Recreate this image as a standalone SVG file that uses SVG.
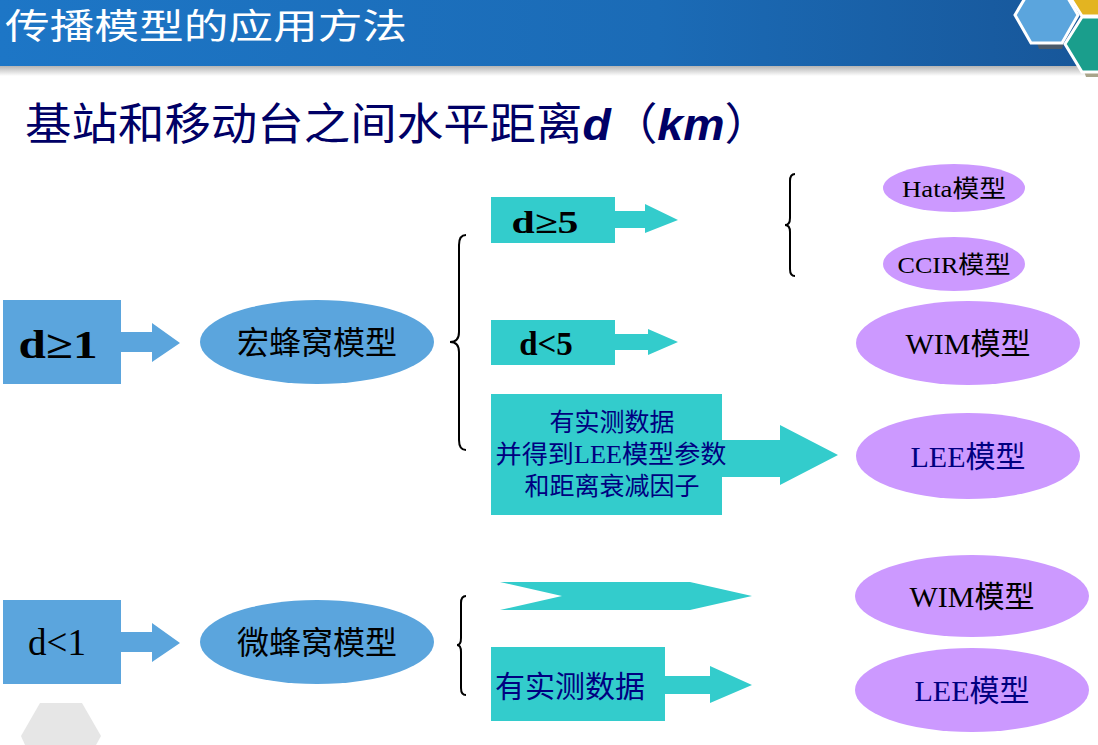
<svg xmlns="http://www.w3.org/2000/svg" width="1098" height="745" viewBox="0 0 1098 745">
<defs>
<linearGradient id="hdr" x1="0" y1="0" x2="1" y2="0">
<stop offset="0" stop-color="#1D76C6"/>
<stop offset="0.6" stop-color="#1B6BB6"/>
<stop offset="1" stop-color="#175699"/>
</linearGradient>
<linearGradient id="shd" x1="0" y1="0" x2="0" y2="1">
<stop offset="0" stop-color="#b4b4b4"/>
<stop offset="1" stop-color="#ffffff"/>
</linearGradient>
<style>
.blue{fill:#5BA5DD}
.cyan{fill:#33CCCC}
.pur{fill:#CC99FF}
.brace{fill:none;stroke:#000;stroke-width:2}
.t{font-family:"Liberation Serif","Noto Sans CJK SC",serif;fill:#000;text-anchor:middle}
.navy{fill:#000080}
</style>
</defs>
<rect width="1098" height="745" fill="#fff"/>
<g id="header">
<rect x="0" y="0" width="1098" height="66" fill="url(#hdr)"/>
<rect x="0" y="66" width="1098" height="10" fill="url(#shd)"/>
<text x="5" y="39" font-family="Noto Sans CJK SC,sans-serif" font-size="35" fill="#fff" textLength="402" lengthAdjust="spacingAndGlyphs">传播模型的应用方法</text>
<polygon points="1037,43 1064,43 1062,49 1039,49" fill="#4a5a6a"/>
<polygon points="1084,71 1098,71 1098,77 1086,77" fill="#a9a48a"/>
<polygon points="1068,-6 1104,-6 1104,16 1082,16" fill="#E3B421" stroke="#fff" stroke-width="3"/>
<polygon points="1065,44 1082,17 1110,17 1110,72 1082,72" fill="#1A9E8C" stroke="#fff" stroke-width="3"/>
<polygon points="1015,15 1031,-12 1062,-12 1078,15 1062,43 1031,43" fill="#5BA5DD" stroke="#fff" stroke-width="3"/>
<polygon points="40,703 82,703 101,736 96,745 25,745 21,736" fill="#e6e6e6"/>
</g>
<g id="subtitle">
<text x="25" y="140" font-family="Noto Sans CJK SC,sans-serif" font-size="44" fill="#000066" textLength="746" lengthAdjust="spacingAndGlyphs">基站和移动台之间水平距离<tspan font-family="Liberation Sans,sans-serif" font-weight="bold" font-style="italic">d</tspan>（<tspan font-family="Liberation Sans,sans-serif" font-weight="bold" font-style="italic">km</tspan>）</text>
</g>
<g id="connectors">
<polygon class="blue" points="121,332 152,332 152,323 180,343 152,362 152,352 121,352"/>
<polygon class="blue" points="121,632 152,632 152,623 180,643 152,662 152,652 121,652"/>
<polygon class="cyan" points="615,211 645,211 645,204 678,220 645,233 645,228 615,228"/>
<polygon class="cyan" points="615,334 648,334 648,329 678,342 648,355 648,350 615,350"/>
<polygon class="cyan" points="722,440 780,440 780,425 838,455 780,485 780,477 722,477"/>
<polygon class="cyan" points="500,582 690,582 752,596 690,610 500,610 562,596"/>
<polygon class="cyan" points="665,676 710,676 710,666 752,685 710,703 710,694 665,694"/>
<path class="brace" d="M466,235 Q459,235 459,245 L459,332 Q459,342 450,342 Q459,342 459,352 L459,440 Q459,450 466,450"/>
<path class="brace" stroke-width="1.5" d="M795,174 Q790,174 790,181 L790,218 Q790,225 785,225 Q790,225 790,232 L790,269 Q790,276 795,276"/>
<path class="brace" d="M466,596 Q461,596 461,603 L461,638 Q461,645 457,645 Q461,645 461,652 L461,688 Q461,695 466,695"/>
</g>
<g id="n-d1">
<rect class="blue" x="3" y="300" width="118" height="84"/>
<text class="t" x="58" y="358" font-size="39" font-weight="bold" textLength="79" lengthAdjust="spacingAndGlyphs">d≥1</text>
</g>
<g id="n-macro">
<ellipse class="blue" cx="317" cy="342" rx="117" ry="42"/>
<text class="t" x="317" y="354" font-size="32">宏蜂窝模型</text>
</g>
<g id="n-d5">
<rect class="cyan" x="491" y="197" width="124" height="46"/>
<text class="t" x="545" y="233" font-size="31" font-weight="bold" textLength="67" lengthAdjust="spacingAndGlyphs">d≥5</text>
</g>
<g id="n-hata">
<ellipse class="pur" cx="954" cy="188" rx="71" ry="24"/>
<text class="t" x="954" y="197" font-size="24" textLength="104" lengthAdjust="spacingAndGlyphs">Hata模型</text>
</g>
<g id="n-ccir">
<ellipse class="pur" cx="954" cy="264" rx="71" ry="27"/>
<text class="t" x="954" y="273" font-size="24" textLength="113" lengthAdjust="spacingAndGlyphs">CCIR模型</text>
</g>
<g id="n-dl5">
<rect class="cyan" x="491" y="320" width="124" height="45"/>
<text class="t" x="546" y="355" font-size="33" font-weight="bold">d&lt;5</text>
</g>
<g id="n-wim1">
<ellipse class="pur" cx="968" cy="343" rx="112" ry="42"/>
<text class="t" x="968" y="354" font-size="30">WIM模型</text>
</g>
<g id="n-leedata">
<rect class="cyan" x="491" y="394" width="231" height="121"/>
<text class="t navy" x="612" y="431" font-size="25">有实测数据</text>
<text class="t navy" x="611" y="463" font-size="25" textLength="231" lengthAdjust="spacingAndGlyphs">并得到LEE模型参数</text>
<text class="t navy" x="612" y="495" font-size="25">和距离衰减因子</text>
</g>
<g id="n-lee1">
<ellipse class="pur" cx="968" cy="456" rx="112" ry="43"/>
<text class="t navy" x="968" y="467" font-size="30">LEE模型</text>
</g>
<g id="n-dl1">
<rect class="blue" x="3" y="600" width="118" height="84"/>
<text class="t" x="57" y="655" font-size="37">d&lt;1</text>
</g>
<g id="n-micro">
<ellipse class="blue" cx="317" cy="642" rx="117" ry="42"/>
<text class="t" x="317" y="654" font-size="32">微蜂窝模型</text>
</g>
<g id="n-data2">
<rect class="cyan" x="491" y="647" width="174" height="74"/>
<text class="t navy" x="570" y="697" font-size="30">有实测数据</text>
</g>
<g id="n-wim2">
<ellipse class="pur" cx="972" cy="596" rx="117" ry="41"/>
<text class="t" x="972" y="607" font-size="30">WIM模型</text>
</g>
<g id="n-lee2">
<ellipse class="pur" cx="972" cy="690" rx="117" ry="42"/>
<text class="t navy" x="972" y="701" font-size="30">LEE模型</text>
</g>
</svg>
